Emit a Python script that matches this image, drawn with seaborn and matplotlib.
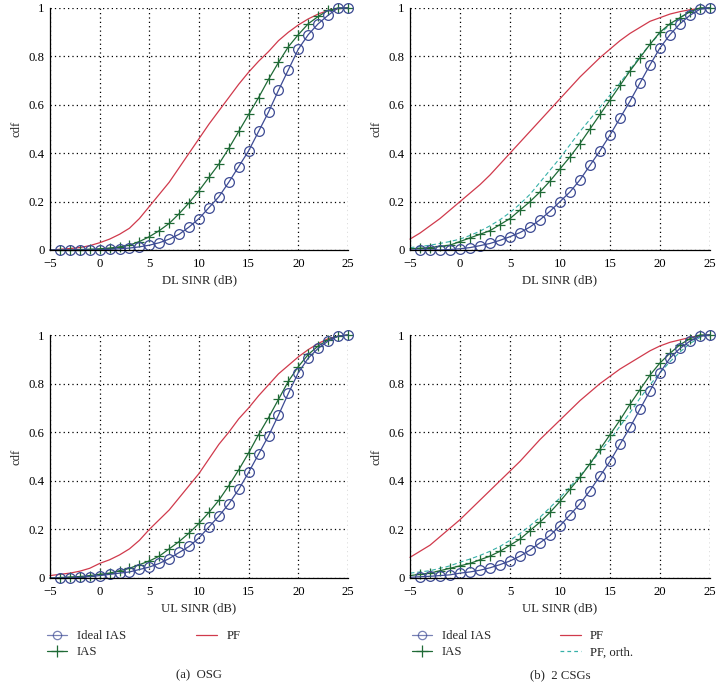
import matplotlib
matplotlib.use("Agg")
import matplotlib.pyplot as plt
from matplotlib.lines import Line2D
import numpy as np
import pandas as pd
import seaborn as sns

# SINR grid (dB), one value per integer dB
SINR = list(range(-5, 26))

# (a) OSG, downlink
A_DL_IDEAL = [0, 0, 0, 0, 0, 0.0, 0.003, 0.005, 0.008, 0.013, 0.02, 0.03, 0.045, 0.065, 0.095, 0.13,
              0.175, 0.22, 0.28, 0.345, 0.41, 0.49, 0.57, 0.66, 0.745, 0.83, 0.89, 0.935, 0.97, 1.0, 1.0]
A_DL_IAS = [0, 0, 0, 0.002, 0.003, 0.005, 0.008, 0.013, 0.02, 0.035, 0.055, 0.08, 0.11, 0.15, 0.195, 0.245,
            0.30, 0.355, 0.42, 0.49, 0.56, 0.63, 0.705, 0.775, 0.84, 0.89, 0.935, 0.965, 0.99, 1.0, 1.0]
A_DL_PF = [0.0, 0.003, 0.006, 0.01, 0.018, 0.03, 0.045, 0.065, 0.09, 0.13, 0.18, 0.23, 0.28, 0.34, 0.40, 0.46,
           0.52, 0.575, 0.63, 0.685, 0.735, 0.78, 0.82, 0.865, 0.90, 0.93, 0.955, 0.975, 0.99, 0.997, 1.0]

# (b) 2 CSGs, downlink
B_DL_IDEAL = [0, 0, 0, 0, 0.002, 0.005, 0.01, 0.018, 0.027, 0.04, 0.055, 0.072, 0.095, 0.125, 0.16, 0.20,
              0.24, 0.29, 0.35, 0.41, 0.475, 0.545, 0.615, 0.69, 0.765, 0.835, 0.89, 0.935, 0.97, 0.995, 1.0]
B_DL_IAS = [0.005, 0.007, 0.01, 0.015, 0.02, 0.035, 0.05, 0.065, 0.08, 0.105, 0.13, 0.165, 0.20, 0.24, 0.285, 0.335,
            0.385, 0.44, 0.50, 0.56, 0.62, 0.68, 0.74, 0.795, 0.85, 0.90, 0.935, 0.96, 0.985, 1.0, 1.0]
B_DL_PF = [0.045, 0.07, 0.10, 0.13, 0.165, 0.20, 0.235, 0.27, 0.31, 0.355, 0.40, 0.445, 0.49, 0.535, 0.58, 0.625,
           0.67, 0.715, 0.755, 0.795, 0.83, 0.865, 0.895, 0.92, 0.945, 0.96, 0.975, 0.985, 0.993, 0.998, 1.0]
B_DL_ORTH = [0.01, 0.014, 0.02, 0.027, 0.035, 0.045, 0.06, 0.078, 0.1, 0.125, 0.155, 0.19, 0.23, 0.28, 0.33, 0.38,
             0.435, 0.49, 0.54, 0.59, 0.64, 0.69, 0.745, 0.80, 0.85, 0.895, 0.93, 0.96, 0.985, 1.0, 1.0]

# (a) OSG, uplink
A_UL_IDEAL = [0, 0, 0, 0.003, 0.006, 0.01, 0.015, 0.02, 0.025, 0.035, 0.045, 0.06, 0.08, 0.105, 0.13, 0.165,
              0.21, 0.255, 0.305, 0.365, 0.435, 0.51, 0.585, 0.67, 0.76, 0.845, 0.905, 0.945, 0.975, 0.995, 1.0]
A_UL_IAS = [0, 0.002, 0.004, 0.006, 0.01, 0.015, 0.02, 0.03, 0.04, 0.055, 0.07, 0.09, 0.12, 0.15, 0.185, 0.225,
            0.27, 0.32, 0.38, 0.445, 0.515, 0.59, 0.66, 0.735, 0.81, 0.87, 0.92, 0.955, 0.98, 0.995, 1.0]
A_UL_PF = [0.01, 0.015, 0.02, 0.028, 0.04, 0.06, 0.075, 0.095, 0.12, 0.155, 0.20, 0.24, 0.28, 0.33, 0.38, 0.43,
           0.49, 0.55, 0.60, 0.655, 0.70, 0.75, 0.795, 0.84, 0.875, 0.91, 0.94, 0.965, 0.985, 0.995, 1.0]

# (b) 2 CSGs, uplink
B_UL_IDEAL = [0.003, 0.005, 0.007, 0.01, 0.013, 0.02, 0.025, 0.032, 0.042, 0.055, 0.07, 0.09, 0.115, 0.145, 0.175, 0.215,
              0.26, 0.305, 0.36, 0.42, 0.48, 0.55, 0.62, 0.695, 0.77, 0.845, 0.905, 0.945, 0.975, 0.995, 1.0]
B_UL_IAS = [0.01, 0.015, 0.02, 0.03, 0.04, 0.05, 0.06, 0.075, 0.09, 0.11, 0.135, 0.16, 0.195, 0.23, 0.27, 0.315,
            0.365, 0.415, 0.47, 0.53, 0.59, 0.65, 0.715, 0.775, 0.835, 0.885, 0.925, 0.96, 0.985, 1.0, 1.0]
B_UL_PF = [0.085, 0.11, 0.135, 0.17, 0.205, 0.24, 0.28, 0.32, 0.36, 0.40, 0.44, 0.48, 0.525, 0.57, 0.61, 0.65,
           0.69, 0.73, 0.765, 0.80, 0.83, 0.86, 0.885, 0.91, 0.935, 0.955, 0.97, 0.98, 0.99, 0.997, 1.0]
B_UL_ORTH = [0.02, 0.025, 0.03, 0.04, 0.05, 0.065, 0.078, 0.093, 0.11, 0.13, 0.155, 0.183, 0.215, 0.25, 0.29, 0.33,
             0.375, 0.42, 0.47, 0.52, 0.57, 0.625, 0.68, 0.74, 0.795, 0.845, 0.89, 0.93, 0.965, 0.99, 1.0]

C_IDEAL = "#3d4b94"
C_IAS = "#1f6a36"
C_PF = "#d03a4c"
C_ORTH = "#36b0a8"
FS = 9.2

sns.set_theme(style="white")
plt.rcParams["font.family"] = ["Liberation Serif", "DejaVu Serif"]
plt.rcParams["font.size"] = FS


def draw_panel(ax, ideal, ias, pf, orth, xlabel):
    x = np.array(SINR)
    sns.lineplot(x=x, y=pf, ax=ax, color=C_PF, linewidth=0.9)
    if orth is not None:
        sns.lineplot(x=x, y=orth, ax=ax, color=C_ORTH, linewidth=0.8, linestyle=(0, (4, 2.5)))
    sns.lineplot(x=x, y=ias, ax=ax, color=C_IAS, linewidth=0.9, marker="+", markersize=7,
                 markeredgecolor=C_IAS, markeredgewidth=0.9, markevery=slice(1, None))
    sns.lineplot(x=x, y=ideal, ax=ax, color=C_IDEAL, linewidth=0.9, marker="o", markersize=7,
                 markerfacecolor="none", markeredgecolor=C_IDEAL, markeredgewidth=0.9,
                 markevery=slice(1, None))
    ax.set_xlim(-5, 25)
    ax.set_ylim(0, 1)
    ax.set_xticks([-5, 0, 5, 10, 15, 20, 25])
    ax.set_xticklabels(["\u22125", "0", "5", "10", "15", "20", "25"])
    ax.set_yticks([0, 0.2, 0.4, 0.6, 0.8, 1])
    ax.set_yticklabels(["0", "0.2", "0.4", "0.6", "0.8", "1"])
    ax.grid(True, color="black", linestyle=(0, (1, 2.5)), linewidth=0.9)
    for s in ["top", "right"]:
        ax.spines[s].set_visible(False)
    for s in ["left", "bottom"]:
        ax.spines[s].set_color("black")
        ax.spines[s].set_linewidth(0.9)
    ax.tick_params(axis="both", labelsize=FS, colors="black", length=0, pad=4)
    ax.tick_params(axis="x", pad=5.5)
    ax.set_xlabel(xlabel, fontsize=FS, labelpad=3)
    ax.set_ylabel("cdf", fontsize=FS, labelpad=4)
    for ln in ax.lines:
        ln.set_clip_on(False)


fig = plt.figure(figsize=(7.19, 6.86), dpi=100)
ax_a1 = fig.add_axes([50 / 719, 1 - 250 / 686, 298 / 719, 242 / 686])
ax_b1 = fig.add_axes([410 / 719, 1 - 250 / 686, 300 / 719, 242 / 686])
ax_a2 = fig.add_axes([50 / 719, 1 - 578 / 686, 298 / 719, 243 / 686])
ax_b2 = fig.add_axes([410 / 719, 1 - 578 / 686, 300 / 719, 243 / 686])

draw_panel(ax_a1, A_DL_IDEAL, A_DL_IAS, A_DL_PF, None, "DL SINR (dB)")
draw_panel(ax_b1, B_DL_IDEAL, B_DL_IAS, B_DL_PF, B_DL_ORTH, "DL SINR (dB)")
draw_panel(ax_a2, A_UL_IDEAL, A_UL_IAS, A_UL_PF, None, "UL SINR (dB)")
draw_panel(ax_b2, B_UL_IDEAL, B_UL_IAS, B_UL_PF, B_UL_ORTH, "UL SINR (dB)")

h_ideal = Line2D([], [], color=C_IDEAL, linewidth=0.9, marker="o", markersize=6,
                 markerfacecolor="none", markeredgewidth=0.9, alpha=0.7)
h_ias = Line2D([], [], color=C_IAS, linewidth=0.9, marker="+", markersize=8, markeredgewidth=0.9)
h_pf = Line2D([], [], color=C_PF, linewidth=0.9)
h_orth = Line2D([], [], color=C_ORTH, linewidth=0.9, linestyle=(0, (3, 2.5)))

leg_kw = dict(ncol=2, frameon=False, fontsize=FS, handlelength=1.6, handletextpad=0.75,
              labelspacing=0.35, borderaxespad=0, borderpad=0)
fig.legend([h_ideal, h_ias, h_pf], ["Ideal IAS", "IAS", "PF"], loc="upper left",
           bbox_to_anchor=(47 / 719, 1 - 630 / 686), columnspacing=5.5, **leg_kw)
fig.legend([h_ideal, h_ias, h_pf, h_orth], ["Ideal IAS", "IAS", "PF", "PF, orth."], loc="upper left",
           bbox_to_anchor=(412 / 719, 1 - 630 / 686), columnspacing=5.4, **leg_kw)

fig.text(199 / 719, 1 - 675 / 686, "(a)  OSG", ha="center", va="center", fontsize=FS)
fig.text(560 / 719, 1 - 675 / 686, "(b)  2 CSGs", ha="center", va="center", fontsize=FS)

fig.savefig("out.png", dpi=100)
